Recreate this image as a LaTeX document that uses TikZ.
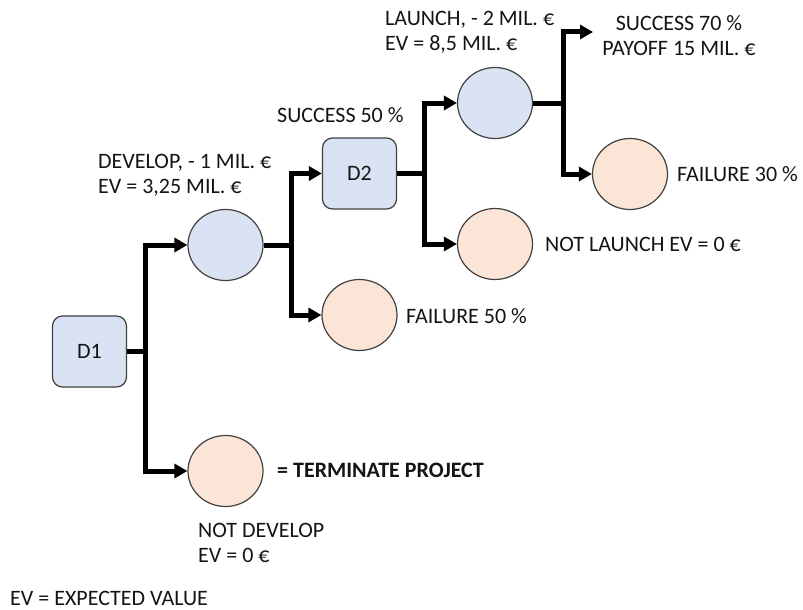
\documentclass[tikz,border=0pt]{standalone}
\usepackage{fontspec}
\setmainfont{Carlito}
\usetikzlibrary{shapes.geometric,arrows.meta}
\definecolor{nodeblue}{HTML}{DAE3F3}
\definecolor{nodeorange}{HTML}{FBE5D6}
\definecolor{outline}{HTML}{404040}
\definecolor{textcol}{HTML}{141414}
\begin{document}
\begin{tikzpicture}[x=1pt,y=-1pt,
  decision/.style={draw=outline, line width=1.2pt, fill=nodeblue, rounded corners=10pt,
    minimum width=74pt, minimum height=71pt, inner sep=0pt, font=\fontsize{22}{25}\selectfont, text=textcol},
  chance/.style={ellipse, draw=outline, line width=1.2pt, fill=nodeblue,
    minimum width=75pt, minimum height=71pt, inner sep=0pt},
  endnode/.style={chance, fill=nodeorange},
  branch/.style={line width=5pt, line join=miter, -{Triangle[length=13pt,width=14pt]}},
  stem/.style={line width=5pt, line join=miter},
  lbl/.style={inner sep=0pt, anchor=west, align=left, text=textcol,
    font=\fontsize{22}{25}\selectfont},
]
\useasboundingbox (0,0) rectangle (803,610);

% decision and chance nodes
\node[decision] (D1) at (89.5,351.5) {D1};
\node[chance]   (C1) at (225.5,245) {};
\node[decision] (D2) at (359.5,173.5) {D2};
\node[endnode]  (F50) at (359.5,315) {};
\node[chance]   (C2) at (495,103) {};
\node[endnode]  (NL) at (495,244) {};
\node[endnode]  (F30) at (630,174) {};
\node[endnode]  (ND) at (225.5,471) {};
\coordinate (S70) at (593,32);

% branch points
\coordinate (J1) at (145,351.5);
\coordinate (J2) at (291,245);
\coordinate (J3) at (424,173.5);
\coordinate (J4) at (563,103);

% connectors
\draw[stem] (D1.east) -- (J1);
\draw[branch] (J1) |- (C1.west);
\draw[branch] (J1) |- (ND.west);
\draw[stem] (C1.east) -- (J2);
\draw[branch] (J2) |- (D2.west);
\draw[branch] (J2) |- (F50.west);
\draw[stem] (D2.east) -- (J3);
\draw[branch] (J3) |- (C2.west);
\draw[branch] (J3) |- (NL.west);
\draw[stem] (C2.east) -- (J4);
\draw[branch] (J4) |- (S70);
\draw[branch] (J4) |- (F30.west);

% labels
\node[lbl] (tdev) at (98,175.5) {DEVELOP, - 1 MIL. €\\EV = 3,25 MIL. €};
\node[lbl] (ts50) at (277,115) {SUCCESS 50 \%};
\node[lbl] (tlau) at (385,32.5) {LAUNCH, - 2 MIL. €\\EV = 8,5 MIL. €};
\node[lbl, anchor=center, align=center] (ts70) at (679,35.5) {SUCCESS 70 \%\\PAYOFF 15 MIL. €};
\node[lbl] (tf30) at (677,174) {FAILURE 30 \%};
\node[lbl] (tnl) at (545,244) {NOT LAUNCH EV = 0 €};
\node[lbl] (tf50) at (406,316) {FAILURE 50 \%};
\node[lbl, font=\fontsize{22}{25}\selectfont\bfseries] (tterm) at (277,470) {= TERMINATE PROJECT};
\node[lbl] (tnd) at (198,543) {NOT DEVELOP\\EV = 0 €};
\node[lbl] (tev) at (10,598) {EV = EXPECTED VALUE};
\end{tikzpicture}
\end{document}
